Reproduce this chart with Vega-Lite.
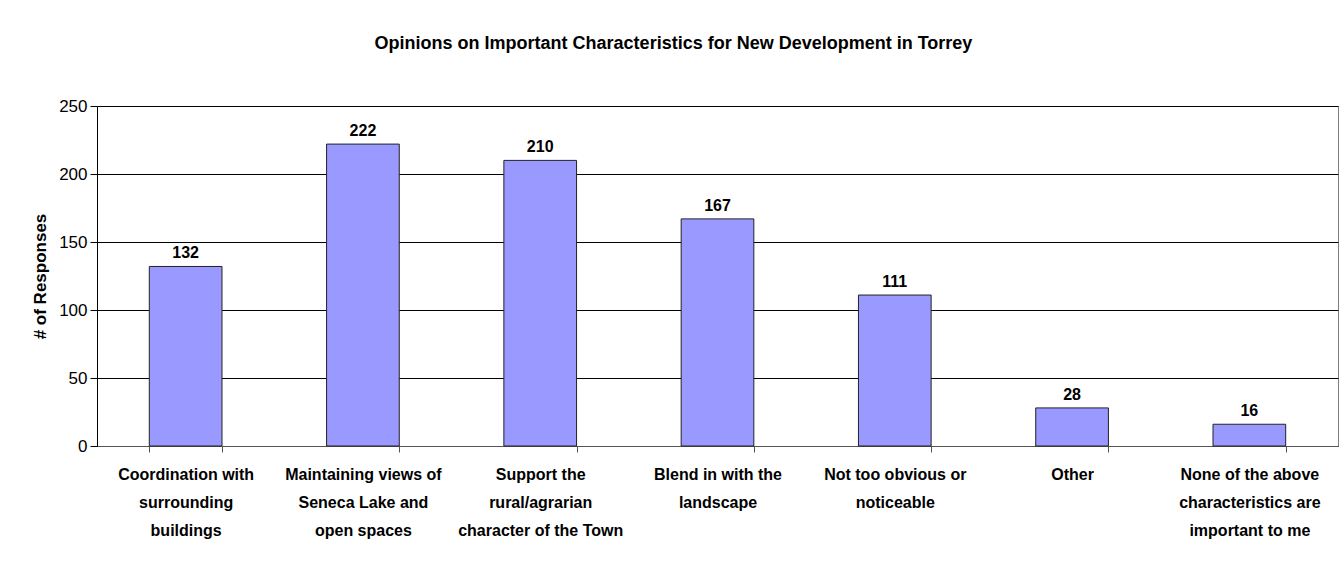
{
  "$schema": "https://vega.github.io/schema/vega-lite/v6.json",
  "autosize": {"type": "none"},
  "width": 1241,
  "height": 340,
  "padding": {"left": 97, "top": 106, "right": 6, "bottom": 117},
  "background": "white",
  "title": {
    "text": "Opinions on Important Characteristics for New Development in Torrey",
    "font": "Liberation Sans",
    "fontSize": 18,
    "fontWeight": "bold",
    "color": "black",
    "anchor": "middle",
    "dx": -44,
    "offset": 44
  },
  "data": {
    "values": [
      {"category": "Coordination with|surrounding|buildings", "responses": 132},
      {"category": "Maintaining views of|Seneca Lake and|open spaces", "responses": 222},
      {"category": "Support the|rural/agrarian|character of the Town", "responses": 210},
      {"category": "Blend in with the|landscape", "responses": 167},
      {"category": "Not too obvious or|noticeable", "responses": 111},
      {"category": "Other", "responses": 28},
      {"category": "None of the above|characteristics are|important to me", "responses": 16}
    ]
  },
  "encoding": {
    "x": {
      "field": "category",
      "type": "nominal",
      "sort": null,
      "scale": {"paddingInner": 0.59, "paddingOuter": 0.295},
      "axis": {
        "title": null,
        "labelAngle": 0,
        "labelExpr": "split(datum.label, '|')",
        "labelFont": "Liberation Sans",
        "labelFontSize": 16,
        "labelFontWeight": "bold",
        "labelColor": "black",
        "labelLineHeight": 28,
        "labelPadding": 14,
        "labelLimit": 0,
        "tickBand": "extent",
        "tickSize": 6,
        "tickColor": "#555555",
        "domainColor": "#555555",
        "grid": false
      }
    },
    "y": {
      "field": "responses",
      "type": "quantitative",
      "scale": {"domain": [0, 250]},
      "axis": {
        "title": "# of Responses",
        "titleFont": "Liberation Sans",
        "titleFontSize": 17,
        "titleFontWeight": "bold",
        "titleColor": "black",
        "titlePadding": 9,
        "values": [0, 50, 100, 150, 200, 250],
        "labelFont": "Liberation Sans",
        "labelFontSize": 17,
        "labelColor": "black",
        "labelPadding": 3,
        "tickSize": 7,
        "tickColor": "black",
        "domainColor": "black",
        "grid": true,
        "gridColor": "black",
        "gridOpacity": 1,
        "gridWidth": 1
      }
    }
  },
  "layer": [
    {
      "mark": {"type": "bar", "color": "#9999FF", "stroke": "#222222", "strokeWidth": 1}
    },
    {
      "mark": {
        "type": "text",
        "baseline": "bottom",
        "dy": -5,
        "font": "Liberation Sans",
        "fontSize": 16,
        "fontWeight": "bold",
        "color": "black"
      },
      "encoding": {"text": {"field": "responses", "type": "quantitative"}}
    }
  ],
  "config": {
    "view": {"stroke": "#808080", "strokeWidth": 1}
  }
}
